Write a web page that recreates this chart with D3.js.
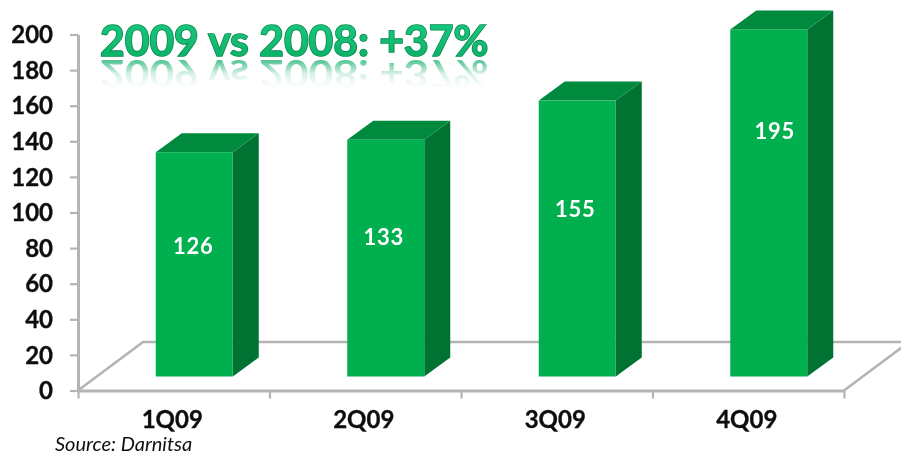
<!DOCTYPE html>
<html><head><meta charset="utf-8">
<script src="https://cdn.jsdelivr.net/npm/d3@7"></script>
<style>html,body{margin:0;padding:0;background:#fff}svg{display:block}text{font-family:Lato,"Open Sans",sans-serif}</style>
</head><body><svg id="c" width="901" height="458"></svg>
<script>
const categories = ["1Q09","2Q09","3Q09","4Q09"];
const values = [126,133,155,195];
const valueTicks = [0,20,40,60,80,100,120,140,160,180,200];
const titleText = "2009 vs 2008: +37%";
const sourceText = "Source: Darnitsa";

// layout, kept apart from the data
const X0=78, X1=844, Y0=390.5, Y200=34.5, DEPTH_X=65, DEPTH_Y=48.5;
const BAR_W=77, BAR_DX=20.5, BAR_BASE=14, SIDE_X=26, SIDE_Y=19;
const labelAnchor=[81,86,102,146]; // label heights in axis units
const labelShift=[-1,-2,-2,6];

const svg=d3.select("#c");
const defs=svg.append("defs");
defs.append("filter").attr("id","soft").attr("x","-5%").attr("y","-5%").attr("width","110%").attr("height","110%")
  .append("feGaussianBlur").attr("stdDeviation",0.55);
const tg=defs.append("linearGradient").attr("id","tfill").attr("x1",0).attr("y1",0).attr("x2",0).attr("y2",1);
tg.append("stop").attr("offset",0).attr("stop-color","#1ccb84");
tg.append("stop").attr("offset",1).attr("stop-color","#0cae62");
const rg2=defs.append("linearGradient").attr("id","rfill2").attr("gradientUnits","userSpaceOnUse")
  .attr("x1",0).attr("y1",-30).attr("x2",0).attr("y2",0);
rg2.append("stop").attr("offset",0).attr("stop-color","#0aa860").attr("stop-opacity",0);
rg2.append("stop").attr("offset",0.5).attr("stop-color","#0aa860").attr("stop-opacity",0.16);
rg2.append("stop").attr("offset",1).attr("stop-color","#0aa860").attr("stop-opacity",0.7);

const y=d3.scaleLinear().domain([0,200]).range([Y0,Y200]);
const x=d3.scaleBand().domain(categories).range([X0,X1]);
const edge=d3.scaleLinear().domain([0,categories.length]).range([X0,X1]);

const root=svg.append("g").attr("filter","url(#soft)");
const GREY="#b4b4b4";

// floor
root.append("path").attr("fill","none").attr("stroke",GREY).attr("stroke-width",2.6)
  .attr("d",d3.line()([[X0,Y0],[X0+DEPTH_X,Y0-DEPTH_Y],[X1+DEPTH_X,Y0-DEPTH_Y],[X1,Y0]]));

// y axis
const yAxis=root.append("g").attr("transform",`translate(${X0},0)`)
  .call(d3.axisLeft(y).tickValues(valueTicks).tickSize(8).tickPadding(17).tickSizeOuter(0));
yAxis.select(".domain").attr("stroke",GREY).attr("stroke-width",3);
yAxis.selectAll(".tick line").attr("stroke",GREY).attr("stroke-width",2.2);
yAxis.selectAll("text").attr("fill","#111").attr("stroke","#111").attr("stroke-width",0.35).style("font-size","24px").style("font-weight",700)
  .style("font-family","Lato").attr("dy","0.34em");

// x axis: boundary ticks, labels at band centres
const xEdges=root.append("g").attr("transform",`translate(0,${Y0})`)
  .call(d3.axisBottom(edge).tickValues(d3.range(categories.length+1)).tickSize(8).tickFormat("").tickSizeOuter(0));
xEdges.select(".domain").attr("stroke",GREY).attr("stroke-width",3);
xEdges.selectAll(".tick line").attr("stroke",GREY).attr("stroke-width",2.2);
const xLabels=root.append("g").attr("transform",`translate(-1.5,${Y0})`)
  .call(d3.axisBottom(x).tickSize(0).tickPadding(20));
xLabels.select(".domain").remove();
xLabels.selectAll("text").attr("fill","#111").attr("stroke","#111").attr("stroke-width",0.35).style("font-size","24px").style("font-weight",700)
  .style("font-family","Lato");

// bars
const bars=root.selectAll("g.bar").data(values).join("g").attr("class","bar");
const bx=(d,i)=>x(categories[i])+x.bandwidth()/2+BAR_DX-BAR_W/2;
const base=Y0-BAR_BASE;
const barTop=d=>y(d)-BAR_BASE;
bars.append("path").attr("fill","#007233").attr("d",(d,i)=>{const a=bx(d,i)+BAR_W,t=barTop(d);
  return d3.line()([[a,t],[a+SIDE_X,t-SIDE_Y],[a+SIDE_X,base-SIDE_Y],[a,base]])+"Z";});
bars.append("path").attr("fill","#008a3e").attr("d",(d,i)=>{const l=bx(d,i),t=barTop(d);
  return d3.line()([[l,t],[l+SIDE_X,t-SIDE_Y],[l+BAR_W+SIDE_X,t-SIDE_Y],[l+BAR_W,t]])+"Z";});
bars.append("rect").attr("fill","#00b050").attr("x",bx).attr("y",barTop)
  .attr("width",BAR_W).attr("height",d=>base-barTop(d));
bars.append("text").attr("x",(d,i)=>bx(d,i)+BAR_W/2+labelShift[i]).attr("y",(d,i)=>y(labelAnchor[i]))
  .attr("text-anchor","middle").attr("dy","0.36em").attr("fill","#fff")
  .style("font-size","22px").style("font-weight",700).attr("letter-spacing","0.8").text(d=>d);

// WordArt title with reflection
const TX=100, TB=56, TS=42.6;
root.append("text").attr("transform",`translate(${TX},${TB+4}) scale(1,-0.9)`)
  .attr("fill","url(#rfill2)").style("font-size",TS+"px").style("font-weight",700).text(titleText);
root.append("text").attr("x",TX).attr("y",TB).attr("fill","url(#tfill)").attr("stroke","#06894d").attr("stroke-width",1.6)
  .attr("paint-order","stroke").style("font-size",TS+"px").style("font-weight",700).text(titleText);

// source
root.append("text").attr("x",55).attr("y",451).attr("fill","#111").style("font-size","20px")
  .style("font-style","italic").text(sourceText);
</script></body></html>
